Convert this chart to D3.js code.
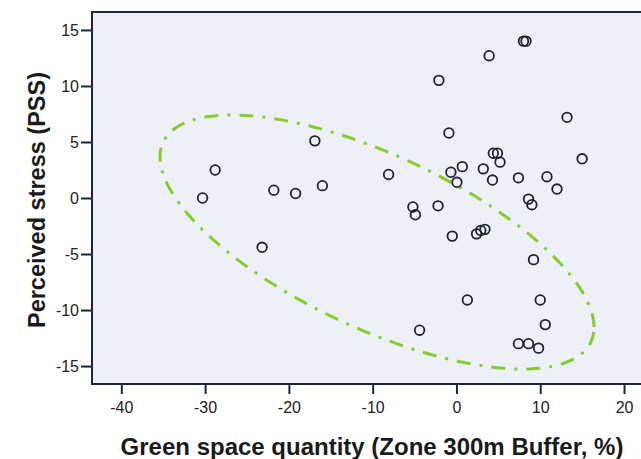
<!DOCTYPE html>
<html>
<head>
    <title>Green space vs perceived stress</title>
    <script src="https://cdnjs.cloudflare.com/ajax/libs/d3/7.8.5/d3.min.js"></script>
    <style>
        body { margin: 0; background: #fff; }
        .tick text { font-family: 'Liberation Sans', Arial, sans-serif; font-size: 16px; fill: #222; }
    </style>
</head>
<body>
    <div id="chart"></div>
    <script>
//------------------------------------DATA--------------------------------
        var greenSpace = [-28.8, -30.3, -21.8, -19.2, -16.0, -16.9, -8.1, -23.2,
            8.0, 8.3, 3.9, -2.1, 13.2, -0.9,
            4.4, 4.9, 5.2, 0.7, -0.66, 3.2, 0.06, 4.3, 7.4, 10.8, 12.0, 15.0, 8.6, 9.0,
            -5.2, -4.9, -2.2, -0.5, 2.4, 2.9, 3.4, 9.2,
            1.3, 10.0, 10.6, -4.4, 7.4, 8.6, 9.8];
        var stress = [2.5, 0.0, 0.7, 0.4, 1.1, 5.1, 2.1, -4.4,
            14.0, 14.0, 12.7, 10.5, 7.2, 5.8,
            4.0, 4.0, 3.2, 2.8, 2.3, 2.6, 1.4, 1.6, 1.8, 1.9, 0.8, 3.5, -0.1, -0.6,
            -0.8, -1.5, -0.7, -3.4, -3.2, -2.9, -2.8, -5.5,
            -9.1, -9.1, -11.3, -11.8, -13.0, -13.0, -13.4];
        var xTicks = [-40, -30, -20, -10, 0, 10, 20];
        var yTicks = [-15, -10, -5, 0, 5, 10, 15];

        // ellipse: centre and two conjugate half-axis vectors, data units
        var ellipseCentre = [-9.48, -3.93];
        var ellipseU = [25.9, -7.59];
        var ellipseV = [0, -8.42];
//------------------------------------FINISHED----------------------------

//------------------------------------MAKES THE BOX--------------------------
        var W = 641, H = 459;
        var margin = { top: 12, left: 92 };
        var plotW = 558, plotH = 372;

        var svg = d3.select("#chart").append("svg")
            .attr("width", W)
            .attr("height", H);

        var x = d3.scaleLinear().domain([-43.5, 23.1]).range([margin.left, margin.left + plotW]);
        var y = d3.scaleLinear().domain([-16.6, 16.6]).range([margin.top + plotH, margin.top]);

        svg.append("rect")
            .attr("x", margin.left)
            .attr("y", margin.top)
            .attr("width", plotW)
            .attr("height", plotH)
            .attr("fill", "#eef0f8")
            .attr("stroke", "#1e2833")
            .attr("stroke-width", 2);
//------------------------------------FINISHED----------------------------

//------------------------------------MAKES THE AXES--------------------------
        svg.append("g")
            .attr("transform", "translate(0," + (margin.top + plotH) + ")")
            .call(d3.axisBottom(x).tickValues(xTicks).tickFormat(function (d) { return String(d); })
                .tickSize(10).tickPadding(8))
            .call(function (g) {
                g.select(".domain").remove();
                g.selectAll(".tick line").attr("stroke", "#1e2833").attr("stroke-width", 2);
            });

        svg.append("g")
            .attr("transform", "translate(" + margin.left + ",0)")
            .call(d3.axisLeft(y).tickValues(yTicks).tickFormat(function (d) { return String(d); })
                .tickSize(11).tickPadding(2))
            .call(function (g) {
                g.select(".domain").remove();
                g.selectAll(".tick line").attr("stroke", "#1e2833").attr("stroke-width", 2);
            });

        //axis titles
        svg.append("text")
            .attr("x", 372)
            .attr("y", 455)
            .attr("text-anchor", "middle")
            .style("font-family", "'Liberation Sans', Arial, sans-serif")
            .style("font-weight", "bold")
            .style("font-size", "24px")
            .style("fill", "#1a1a1a")
            .text("Green space quantity (Zone 300m Buffer, %)");

        svg.append("text")
            .attr("transform", "translate(45,200) rotate(-90)")
            .attr("text-anchor", "middle")
            .style("font-family", "'Liberation Sans', Arial, sans-serif")
            .style("font-weight", "bold")
            .style("font-size", "23.5px")
            .style("fill", "#1a1a1a")
            .text("Perceived stress (PSS)");
//------------------------------------FINISHED----------------------------

//------------------------------------MAKES THE ELLIPSE-----------------------
        var ellipsePts = d3.range(0, 360, 3).map(function (deg) {
            var t = deg * Math.PI / 180;
            return [ellipseCentre[0] + ellipseU[0] * Math.cos(t) + ellipseV[0] * Math.sin(t),
                    ellipseCentre[1] + ellipseU[1] * Math.cos(t) + ellipseV[1] * Math.sin(t)];
        });
        svg.append("path")
            .datum(ellipsePts)
            .attr("d", d3.line().x(function (d) { return x(d[0]); }).y(function (d) { return y(d[1]); }).curve(d3.curveCardinalClosed))
            .attr("fill", "none")
            .attr("stroke", "#85cc2c")
            .attr("stroke-width", 3)
            .attr("stroke-dasharray", "14,9,3,9");
//------------------------------------FINISHED----------------------------

//------------------------------------MAKES THE POINTS------------------------
        svg.append("g")
            .selectAll("circle")
            .data(greenSpace)
            .enter()
            .append("circle")
            .attr("cx", function (d) { return x(d); })
            .attr("cy", function (d, i) { return y(stress[i]); })
            .attr("r", 4.8)
            .attr("fill", "none")
            .attr("stroke", "#1b2430")
            .attr("stroke-width", 1.8);
//------------------------------------FINISHED----------------------------
    </script>
</body>
</html>
